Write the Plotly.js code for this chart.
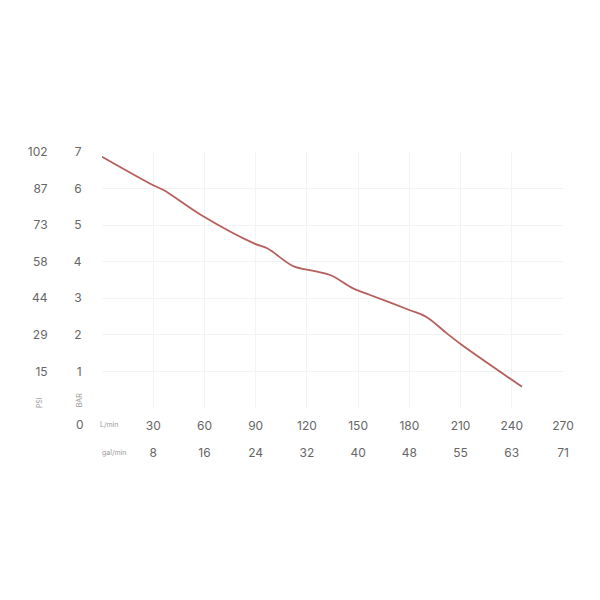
<!DOCTYPE html>
<html>
<head>
<meta charset="utf-8">
<script src="https://cdn.plot.ly/plotly-3.0.1.min.js"></script>
<style>
  html, body { margin: 0; padding: 0; background: #fff; }
  #chart { width: 600px; height: 600px; }
</style>
</head>
<body>
<div id="chart"></div>
<script>
// pump curve: flow (L/min) vs pressure (bar)
var flowLpm = [0, 30, 36, 59, 89, 97, 112, 124, 134, 147, 157, 180, 190, 202, 210, 246];
var pressureBar = [6.87, 6.09, 5.96, 5.25, 4.5, 4.36, 3.88, 3.75, 3.63, 3.27, 3.09, 2.68, 2.49, 2.04, 1.75, 0.58];

// tick labels
var lpmTicks = [30, 60, 90, 120, 150, 180, 210, 240, 270];
var galTicks = ['8', '16', '24', '32', '40', '48', '55', '63', '71'];
var barTicks = [1, 2, 3, 4, 5, 6, 7];
var psiTicks = ['15', '29', '44', '58', '73', '87', '102'];

var labelFont = { family: 'Inter, Roboto, sans-serif', size: 12, color: '#666' };
var smallFont = { family: 'Inter, Roboto, sans-serif', size: 7, color: '#999' };
var none = 'rgba(0,0,0,0)';

var trace = {
  x: flowLpm,
  y: pressureBar,
  type: 'scatter',
  mode: 'lines',
  line: { color: '#b65f5c', width: 1.8, shape: 'spline', smoothing: 1 },
  hoverinfo: 'skip'
};

// empty trace so the gal/min and PSI axes get drawn
var scaleTrace = {
  x: [0, 270],
  y: [0, 7],
  xaxis: 'x2',
  yaxis: 'y2',
  type: 'scatter',
  mode: 'markers',
  marker: { opacity: 0 },
  hoverinfo: 'skip'
};

var layout = {
  width: 600,
  height: 600,
  margin: { l: 102, r: 37, t: 152, b: 192 },
  paper_bgcolor: '#fff',
  plot_bgcolor: '#fff',
  showlegend: false,
  xaxis: {
    range: [0, 270],
    tickvals: lpmTicks,
    ticks: 'outside', ticklen: 7, tickcolor: none,
    tickfont: labelFont,
    showgrid: true, gridcolor: '#f3f3f3', gridwidth: 1,
    zeroline: false, showline: false, fixedrange: true
  },
  xaxis2: {
    overlaying: 'x', anchor: 'y2', side: 'bottom',
    range: [0, 270],
    tickvals: lpmTicks, ticktext: galTicks,
    ticks: 'outside', ticklen: 34, tickcolor: none,
    tickfont: labelFont,
    showgrid: false, zeroline: false, showline: false, fixedrange: true
  },
  yaxis: {
    range: [0, 7],
    tickvals: barTicks,
    ticks: 'outside', ticklen: 17, tickcolor: none,
    tickfont: labelFont,
    showgrid: true, gridcolor: '#f3f3f3', gridwidth: 1,
    zeroline: false, showline: false, fixedrange: true
  },
  yaxis2: {
    overlaying: 'y', anchor: 'x2', side: 'left',
    range: [0, 7],
    tickvals: barTicks, ticktext: psiTicks,
    ticks: 'outside', ticklen: 51, tickcolor: none,
    tickfont: labelFont,
    showgrid: false, zeroline: false, showline: false, fixedrange: true
  },
  annotations: [
    { text: '0', xref: 'paper', yref: 'paper', x: -0.048, y: -0.063, xanchor: 'center', yanchor: 'middle', showarrow: false, font: labelFont },
    { text: 'L/min', xref: 'paper', yref: 'paper', x: -0.009, y: -0.063, xanchor: 'left', yanchor: 'middle', showarrow: false, font: smallFont },
    { text: 'gal/min', xref: 'paper', yref: 'paper', x: -0.005, y: -0.172, xanchor: 'left', yanchor: 'middle', showarrow: false, font: smallFont },
    { text: 'BAR', xref: 'paper', yref: 'paper', x: -0.05, y: 0.03, xanchor: 'center', yanchor: 'middle', textangle: -90, showarrow: false, font: smallFont },
    { text: 'PSI', xref: 'paper', yref: 'paper', x: -0.134, y: 0.02, xanchor: 'center', yanchor: 'middle', textangle: -90, showarrow: false, font: smallFont }
  ]
};

Plotly.newPlot('chart', [trace, scaleTrace], layout, { displayModeBar: false, staticPlot: true });
</script>
</body>
</html>
